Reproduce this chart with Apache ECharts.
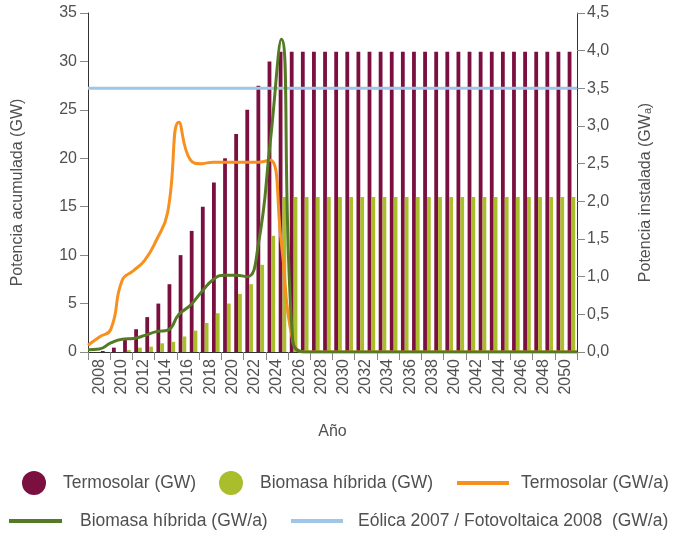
<!DOCTYPE html>
<html><head><meta charset="utf-8">
<script src="https://cdn.jsdelivr.net/npm/echarts@6/dist/echarts.min.js"></script>
<style>html,body{margin:0;padding:0;background:#fff}#c{width:678px;height:537px}</style>
</head><body><div id="c"></div>
<script>
const years = ['2008','2009','2010','2011','2012','2013','2014','2015','2016','2017','2018','2019','2020','2021','2022','2023','2024','2025','2026','2027','2028','2029','2030','2031','2032','2033','2034','2035','2036','2037','2038','2039','2040','2041','2042','2043','2044','2045','2046','2047','2048','2049','2050','2051'];
const tickLabels = ['2008','2010','2012','2014','2016','2018','2020','2022','2024','2026','2028','2030','2032','2034','2036','2038','2040','2042','2044','2046','2048','2050'];
const termosolarGW = [0,0.1,0.45,1.3,2.35,3.6,5,7,10,12.5,15,17.5,20,22.5,25,27.5,30,31,31,31,31,31,31,31,31,31,31,31,31,31,31,31,31,31,31,31,31,31,31,31,31,31,31,31];
const biomasaGW = [0,0,0,0.2,0.45,0.55,0.9,1.05,1.6,2.2,3,4,5,6,7,9,12,16,16,16,16,16,16,16,16,16,16,16,16,16,16,16,16,16,16,16,16,16,16,16,16,16,16,16];
const termosolarGWa = [0.09,0.2,0.3,0.95,1.08,1.22,1.48,1.85,3.05,2.55,2.5,2.52,2.52,2.52,2.52,2.52,2.55,1.45,0.15,0,0,0,0,0,0,0,0,0,0,0,0,0,0,0,0,0,0,0,0,0,0,0,0,0];
const biomasaGWa = [0.03,0.04,0.12,0.17,0.18,0.22,0.27,0.29,0.5,0.62,0.8,0.96,1.02,1.02,1.0,1.45,2.75,4.15,0.15,0,0,0,0,0,0,0,0,0,0,0,0,0,0,0,0,0,0,0,0,0,0,0,0,0];
const eolicaGWa = [3.5,3.5,3.5,3.5,3.5,3.5,3.5,3.5,3.5,3.5,3.5,3.5,3.5,3.5,3.5,3.5,3.5,3.5,3.5,3.5,3.5,3.5,3.5,3.5,3.5,3.5,3.5,3.5,3.5,3.5,3.5,3.5,3.5,3.5,3.5,3.5,3.5,3.5,3.5,3.5,3.5,3.5,3.5,3.5];

const names = ['Termosolar (GW)','Biomasa híbrida (GW)','Termosolar (GW/a)','Biomasa híbrida (GW/a)','Eólica 2007 / Fotovoltaica 2008  (GW/a)'];
const C = {maroon:'#7b0f3f', lime:'#aabd2b', orange:'#f7901e', dgreen:'#557a25', blue:'#9fc6e6'};
const FONT = "'Liberation Sans', Arial, sans-serif";
const TXT = '#505050';

const chart = echarts.init(document.getElementById('c'), null, {renderer:'canvas'});
function leg(name, left, top, icon, w, h, pad){
  return {data:[{name:name, icon:icon}], left:left, top:top, padding:0, itemWidth:w, itemHeight:h,
    selectedMode:false, textStyle:{fontFamily:FONT, fontSize:17.5, color:TXT, padding:[0,0,0,pad]}};
}
chart.setOption({
  animation:false,
  textStyle:{fontFamily:FONT},
  grid:{left:88, right:101, top:13, bottom:185, containLabel:false},
  legend:[
    leg(names[0], 22, 471, 'circle', 24, 24, 12),
    leg(names[1], 219, 471, 'circle', 24, 24, 12),
    leg(names[2], 457, 474, 'rect', 52, 4, 7),
    leg(names[3], 9, 512, 'rect', 53, 4, 13),
    leg(names[4], 291, 512, 'rect', 52, 4, 10)
  ],
  xAxis:[
    {type:'category', data:years, position:'bottom', offset:0, boundaryGap:true,
     axisLine:{show:true, onZero:false, lineStyle:{color:'#333', width:1}}, axisTick:{show:false}, axisLabel:{show:false}, splitLine:{show:false}},
    {type:'category', data:tickLabels, position:'bottom', offset:0, boundaryGap:true,
     axisLine:{show:false, onZero:false}, axisTick:{show:true, interval:0, length:8, lineStyle:{color:'#888'}},
     axisLabel:{interval:0, rotate:90, fontSize:16, color:TXT, margin:7, fontFamily:FONT},
     name:'Año', nameLocation:'middle', nameGap:72, nameTextStyle:{fontSize:16, color:TXT, fontFamily:FONT}},
    {type:'category', data:years, boundaryGap:false, show:false}
  ],
  yAxis:[
    {type:'value', min:0, max:35, interval:5, position:'left',
     axisLine:{show:true, lineStyle:{color:'#333'}}, axisTick:{show:true, length:8, lineStyle:{color:'#888'}},
     axisLabel:{fontSize:16, color:TXT, margin:11, fontFamily:FONT}, splitLine:{show:false},
     name:'Potencia acumulada (GW)', nameLocation:'middle', nameGap:62, nameRotate:90,
     nameTextStyle:{fontSize:16, color:TXT, fontFamily:FONT, padding:[0,20,0,0]}},
    {type:'value', min:0, max:4.5, interval:0.5, position:'right',
     axisLine:{show:true, lineStyle:{color:'#333'}}, axisTick:{show:true, length:8, lineStyle:{color:'#888'}},
     axisLabel:{fontSize:16, color:TXT, margin:10, fontFamily:FONT, formatter:v=>v.toFixed(1).replace('.',',')},
     splitLine:{show:false},
     name:'Potencia instalada (GWₐ)', nameLocation:'middle', nameGap:61, nameRotate:90,
     nameTextStyle:{fontSize:16, color:TXT, fontFamily:FONT, padding:[0,20,0,0]}}
  ],
  series:[
    {name:names[0], type:'bar', xAxisIndex:0, yAxisIndex:0, data:termosolarGW, barWidth:3.8, barGap:'0%', itemStyle:{color:C.maroon}},
    {name:names[1], type:'bar', xAxisIndex:0, yAxisIndex:0, data:biomasaGW, barWidth:3.8, barGap:'0%', itemStyle:{color:C.lime}},
    {name:names[4], type:'line', xAxisIndex:2, yAxisIndex:1, data:eolicaGWa, showSymbol:false, symbol:'none', lineStyle:{color:C.blue, width:3}, itemStyle:{color:C.blue}},
    {name:names[2], type:'line', xAxisIndex:2, yAxisIndex:1, data:termosolarGWa, smooth:0.5, showSymbol:false, symbol:'none', lineStyle:{color:C.orange, width:3}, itemStyle:{color:C.orange}},
    {name:names[3], type:'line', xAxisIndex:2, yAxisIndex:1, data:biomasaGWa, smooth:0.5, showSymbol:false, symbol:'none', lineStyle:{color:C.dgreen, width:3}, itemStyle:{color:C.dgreen}}
  ]
});
</script></body></html>
